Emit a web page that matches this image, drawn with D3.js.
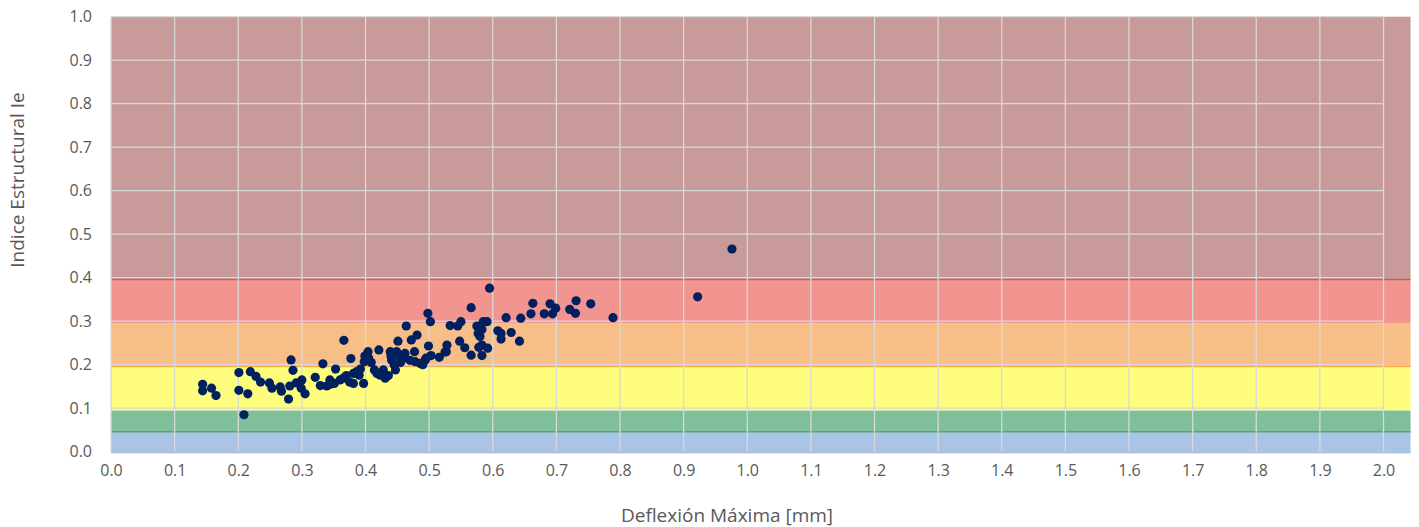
<!DOCTYPE html>
<html><head><meta charset="utf-8">
<script src="https://cdn.jsdelivr.net/npm/d3@7"></script>
<style>html,body{margin:0;padding:0;background:#fff;}svg{display:block;font-family:"Open Sans","Noto Sans",sans-serif;}</style>
</head><body><svg id="c" width="1419" height="527"></svg>
<script>
// ---- data ----
const xTicks = [0.0,0.1,0.2,0.3,0.4,0.5,0.6,0.7,0.8,0.9,1.0,1.1,1.2,1.3,1.4,1.5,1.6,1.7,1.8,1.9,2.0];
const yTicks = [0.0,0.1,0.2,0.3,0.4,0.5,0.6,0.7,0.8,0.9,1.0];
const bandLower = [-0.004, 0.045, 0.095, 0.195, 0.295, 0.395];
const bandUpper = [0.045, 0.095, 0.195, 0.295, 0.395, 1.0];
const bandColors = ["#a9c4e6", "#7fbf9a", "#fefd7d", "#f8be87", "#f2948f", "#c99a9a"];
const bandEdge = ["none", "#55a276", "none", "#f7ae48", "none", "#c2625f"];
const bandXEnd = 2.0425;
const deflexion = [
 0.144,0.144,0.158,0.165,0.201,0.201,0.209,0.215,0.219,0.228,0.235,0.249,0.253,0.266,0.268,0.279,0.283,0.286,0.281,0.291,
 0.300,0.299,0.305,0.321,0.329,0.333,0.339,0.344,0.353,0.366,
 0.377,0.351,0.360,0.365,0.381,0.386,0.381,0.390,0.397,0.399,0.404,0.398,0.409,0.414,0.421,0.423,0.428,0.431,0.439,0.441,
 0.447,0.449,0.451,0.454,0.462,0.464,0.472,0.481,0.477,0.478,0.486,0.494,0.499,0.502,0.498,0.503,0.516,0.527,0.528,0.525,
 0.392,0.405,0.418,0.436,0.445,0.455,0.460,0.470,0.490,0.495,0.440,0.370,0.375,0.345,
 0.533,0.545,0.550,0.548,0.556,0.566,0.566,0.595,0.575,0.577,0.583,0.585,0.591,0.580,0.583,0.578,0.583,0.592,0.608,0.613,
 0.613,0.621,0.629,0.642,0.644,0.660,0.663,0.681,0.690,0.694,0.699,0.721,0.730,0.731,0.754,0.789,0.922,0.976
];
const indice = [
 0.155,0.140,0.146,0.129,0.182,0.141,0.085,0.133,0.184,0.173,0.160,0.158,0.146,0.149,0.139,0.121,0.211,0.187,0.151,0.158,
 0.165,0.146,0.133,0.171,0.152,0.202,0.151,0.165,0.190,0.256,
 0.214,0.157,0.165,0.169,0.180,0.184,0.157,0.176,0.157,0.220,0.230,0.207,0.205,0.188,0.234,0.176,0.188,0.169,0.230,0.211,
 0.188,0.230,0.254,0.218,0.226,0.289,0.257,0.268,0.230,0.207,0.203,0.211,0.243,0.299,0.318,0.221,0.217,0.230,0.245,0.229,
 0.190,0.215,0.180,0.175,0.200,0.205,0.215,0.210,0.200,0.215,0.220,0.175,0.160,0.155,
 0.290,0.289,0.299,0.254,0.239,0.222,0.331,0.376,0.289,0.272,0.281,0.299,0.299,0.265,0.245,0.240,0.221,0.238,0.278,0.272,
 0.259,0.308,0.274,0.254,0.307,0.317,0.341,0.317,0.340,0.317,0.330,0.327,0.318,0.347,0.340,0.308,0.356,0.466
];

// ---- chart ----
const svg = d3.select("#c");
const x = d3.scaleLinear().domain([0, 2]).range([111, 1383.5]);
const y = d3.scaleLinear().domain([0, 1]).range([451.7, 16.7]);

// bands
const bands = bandLower.map((lo, i) => ({lo, hi: bandUpper[i], fill: bandColors[i], edge: bandEdge[i]}));
svg.append("g").selectAll("rect").data(bands).join("rect")
  .attr("x", x(0)).attr("width", x(bandXEnd) - x(0))
  .attr("y", d => y(d.hi)).attr("height", d => y(d.lo) - y(d.hi))
  .attr("fill", d => d.fill);
svg.append("g").selectAll("line").data(bands.filter(d => d.edge !== "none")).join("line")
  .attr("x1", x(0)).attr("x2", x(bandXEnd))
  .attr("y1", d => y(d.lo) - 0.5).attr("y2", d => y(d.lo) - 0.5)
  .attr("stroke", d => d.edge).attr("stroke-width", 1.5);

// gridlines
const grid = svg.append("g");
grid.selectAll("line.v").data(xTicks).join("line").attr("class", "v")
  .attr("x1", d => x(d)).attr("x2", d => x(d)).attr("y1", y(1)).attr("y2", y(0))
  .attr("stroke", "#d9d9d9").attr("stroke-width", 1.3);
grid.selectAll("line.h").data(yTicks).join("line").attr("class", "h")
  .attr("x1", x(0)).attr("x2", x(2)).attr("y1", d => y(d)).attr("y2", d => y(d))
  .attr("stroke", d => d === 0 ? "#bfbfbf" : "#d9d9d9").attr("stroke-width", 1.3);

// axes (labels only)
const xAxis = svg.append("g").attr("transform", `translate(0,${y(0)})`)
  .call(d3.axisBottom(x).tickValues(xTicks).tickFormat(d3.format(".1f")).tickSize(0).tickPadding(13));
const yAxis = svg.append("g").attr("transform", `translate(${x(0)},0)`)
  .call(d3.axisLeft(y).tickValues(yTicks).tickFormat(d3.format(".1f")).tickSize(0).tickPadding(19));
[xAxis, yAxis].forEach(a => {
  a.select(".domain").remove();
  a.selectAll("text").attr("fill", "#595959").style("font-size", "16px").style("font-family", '"Open Sans","Noto Sans",sans-serif');
});

// points
svg.append("g").selectAll("circle").data(deflexion.map((d, i) => [d, indice[i]])).join("circle")
  .attr("cx", d => x(d[0])).attr("cy", d => y(d[1])).attr("r", 4.6)
  .attr("fill", "#002060");

// titles
svg.append("text").attr("x", 727).attr("y", 522).attr("text-anchor", "middle")
  .attr("fill", "#595959").style("font-size", "19px").text("Deflexión Máxima [mm]");
svg.append("text").attr("transform", "translate(24,180) rotate(-90)").attr("text-anchor", "middle")
  .attr("fill", "#595959").style("font-size", "19px").text("Indice Estructural Ie");
</script></body></html>
